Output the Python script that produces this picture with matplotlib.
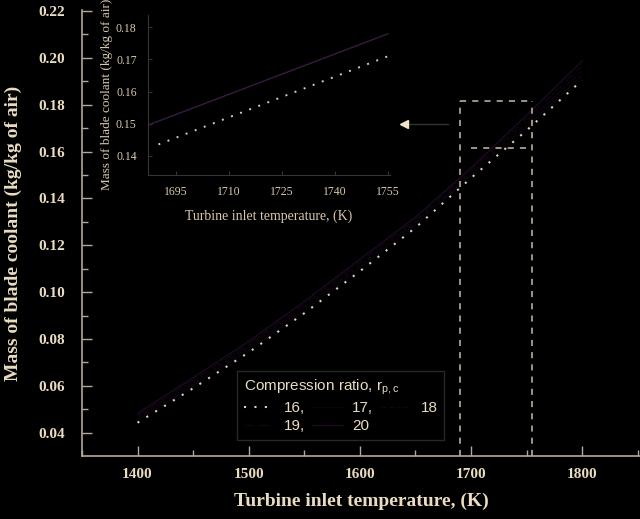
import matplotlib
matplotlib.use("Agg")
import matplotlib.pyplot as plt
from matplotlib.ticker import MultipleLocator

# ---- data ----
tit = [1400, 1450, 1500, 1550, 1600, 1650, 1700, 1750, 1800]
ratios = ["16", "17", "18", "19", "20"]
m16 = [0.0443, 0.0590, 0.0743, 0.0910, 0.1089, 0.1275, 0.1487, 0.1690, 0.1905]
m17 = [0.0453, 0.0601, 0.0755, 0.0922, 0.1102, 0.1286, 0.1498, 0.1706, 0.1925]
m18 = [0.0463, 0.0612, 0.0766, 0.0935, 0.1115, 0.1298, 0.1508, 0.1722, 0.1945]
m19 = [0.0473, 0.0624, 0.0778, 0.0948, 0.1128, 0.1309, 0.1519, 0.1739, 0.1966]
m20 = [0.0483, 0.0635, 0.0790, 0.0960, 0.1140, 0.1320, 0.1530, 0.1755, 0.1986]

inset_t16 = [1690, 1755]
inset_m16 = [0.1435, 0.1710]
inset_t20 = [1687, 1755]
inset_m20 = [0.1495, 0.1780]

box_x = [1690, 1755]
box_top = 0.1816
inner_x = [1700, 1752]
inner_y = 0.1614

BG = "black"
TXT = "#e9dcc0"
SPINE = "#b4a898"

plt.rcParams["font.family"] = ["Liberation Serif", "DejaVu Serif"]

fig = plt.figure(figsize=(6.4, 5.19), dpi=100, facecolor=BG)
ax = fig.add_axes([0.128, 0.1214, 0.872, 0.859], facecolor=BG)

styles = [((0, (1, 4)), "#e0d4c4", 1.5), ("-", "#0c040c", 1.0), ("--", "#0e050f", 1.0),
          ("-.", "#100612", 1.0), ("-", "#1c0a22", 1.0)]
series = [m16, m17, m18, m19, m20]
handles = []
for (ls, c, lw), ys, lab in zip(styles, series, ratios):
    h, = ax.plot(tit, ys, linestyle=ls, color=c, lw=lw)
    handles.append(h)

ax.set_xlim(1350, 1852)
ax.set_ylim(0.0301, 0.2203)
ax.xaxis.set_minor_locator(MultipleLocator(50))
ax.yaxis.set_minor_locator(MultipleLocator(0.01))
ax.set_xticks([1400, 1500, 1600, 1700, 1800])
yt = [0.04, 0.06, 0.08, 0.10, 0.12, 0.14, 0.16, 0.18, 0.20, 0.22]
ax.set_yticks(yt)
ax.set_yticklabels([f"{v:.2f}" for v in yt])
for s in ["top", "right"]:
    ax.spines[s].set_visible(False)
for s in ["left", "bottom"]:
    ax.spines[s].set_color(SPINE)
    ax.spines[s].set_linewidth(1.2)
ax.tick_params(which="major", direction="in", length=7, width=1, color=SPINE,
               labelcolor=TXT, labelsize=11)
ax.tick_params(axis="y", which="major", pad=12)
ax.tick_params(axis="x", which="major", pad=9)
ax.tick_params(which="minor", direction="in", length=4, width=1, color=SPINE)
for lbl in ax.get_xticklabels() + ax.get_yticklabels():
    lbl.set_fontweight("bold")

ax.set_xlabel("Turbine inlet temperature, (K)", color=TXT, fontsize=14,
              fontweight="bold", labelpad=8)
ax.set_ylabel("Mass of blade coolant (kg/kg of air)", color=TXT, fontsize=14,
              fontweight="bold", labelpad=12)

# dashed zoom box
dcol = "#c8bcaa"
dash = (0, (4, 4))
ax.plot([box_x[0], box_x[0]], [0.0301, box_top], ls=dash, color=dcol, lw=1.1)
ax.plot([box_x[1], box_x[1]], [0.0301, box_top], ls=dash, color=dcol, lw=1.1)
ax.plot(box_x, [box_top, box_top], ls=dash, color=dcol, lw=1.1)
ax.plot(inner_x, [inner_y, inner_y], ls=dash, color=dcol, lw=1.1)

# arrow pointing to inset
ax.plot([1640, 1679], [0.1717, 0.1717], color="#333333", lw=1.0)
ax.plot([1640], [0.1717], marker="<", color="#f0e4c8", markersize=6, ls="none")

# legend
order = [0, 3, 1, 4, 2]
labels = ["16,", "17,", "18", "19,", "20"]
leg = ax.legend([handles[i] for i in order], [labels[i] for i in order],
                ncol=3, title="Compression ratio, r$_{\\mathregular{p,c}}$",
                loc="lower left", bbox_to_anchor=(0.278, 0.036),
                borderaxespad=0.0,
                frameon=True, facecolor=BG, edgecolor="#333333",
                prop={"family": "Liberation Sans", "size": 11},
                title_fontproperties={"family": "Liberation Sans", "size": 11},
                handlelength=2.0, columnspacing=0.5, handletextpad=0.6,
                borderpad=0.45, labelspacing=0.25, fancybox=False)
leg.get_title().set_color(TXT)
leg._legend_box.align = "left"
for t in leg.get_texts():
    t.set_color(TXT)

# inset
ins = fig.add_axes([0.231, 0.663, 0.378, 0.309], facecolor=BG)
ins.plot(inset_t20, inset_m20, color="#3a1a44", lw=1.0)
ins.plot(inset_t16, inset_m16, linestyle=(0, (1, 4)), color="#d8ccbc", lw=1.4)
ins.set_xlim(1687, 1755.5)
ins.set_ylim(0.134, 0.184)
ins.set_xticks([1695, 1710, 1725, 1740, 1755])
ins.set_yticks([0.14, 0.15, 0.16, 0.17, 0.18])
ins.set_yticklabels(["0.14", "0.15", "0.16", "0.17", "0.18"])
for s in ["top", "right"]:
    ins.spines[s].set_visible(False)
for s in ["left", "bottom"]:
    ins.spines[s].set_color("#3a3434")
ins.tick_params(direction="in", length=3, color="#3a3434", labelcolor="#d8c8ac",
                labelsize=8.5, pad=8)
ins.set_xlabel("Turbine inlet temperature, (K)", color="#d8c8ac", fontsize=10, labelpad=8)
ins.set_ylabel("Mass of blade coolant (kg/kg of air)", color="#d8c8ac", fontsize=9.5,
               labelpad=2)

fig.savefig("out.png", dpi=100, facecolor=BG)
